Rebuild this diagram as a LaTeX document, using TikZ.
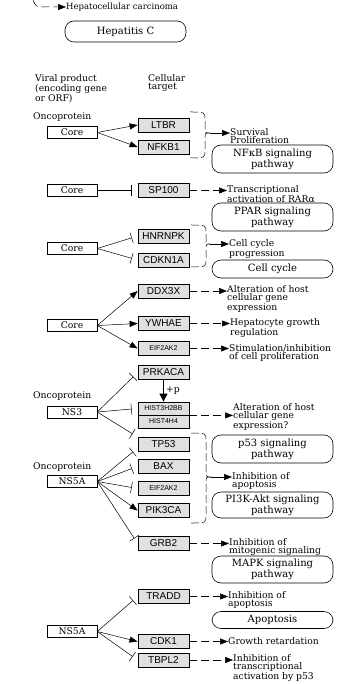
\documentclass[tikz,border=0pt]{standalone}
\usepackage{fontspec}
\setmainfont{DejaVu Serif}
\newfontfamily\genefont{Liberation Sans}
\usetikzlibrary{arrows.meta}
\tikzset{gene/.style={draw,line width=0.8pt,fill=black!12,minimum width=51pt,
   minimum height=14pt,inner sep=0pt,font=\genefont\fontsize{10}{10}\selectfont},
 smallgene/.style={gene,font=\genefont\fontsize{7}{7}\selectfont},
 viral/.style={draw,line width=0.5pt,minimum width=50pt,minimum height=12pt,inner sep=0pt},
 pathway/.style={draw,line width=0.6pt,rounded corners=9pt,minimum width=121pt,
   align=center,inner sep=0pt,font=\fontsize{10}{9}\selectfont},
 txt/.style={align=left,anchor=north west,inner sep=0pt},
 act/.style={-{Triangle[length=8pt,width=6pt]},line width=0.5pt},
 inh/.style={-{Bar[width=11pt]},shorten >=6pt,line width=0.5pt},
 indirect/.style={-{Triangle[length=8pt,width=6pt]},dash pattern=on 8pt off 4pt,line width=0.5pt},
 brace/.style={dash pattern=on 8pt off 3pt,line width=0.5pt},
 }

\begin{document}
\begin{tikzpicture}[x=1pt,y=-1pt,font=\fontsize{9.2}{8.5}\selectfont]
        \useasboundingbox (0,0) rectangle (342,684);

        % header
        \coordinate (frag) at (33,0);
        \node[anchor=west,inner sep=0pt,font=\fontsize{8.5}{8.5}\selectfont] (hcc) at (66,7) {Hepatocellular carcinoma};
        \draw[indirect] (frag) .. controls (36,7) .. (45,7) -- (hcc.west);
        \node[pathway,minimum height=21pt] (hepc) at (125.5,31.5) {Hepatitis C};
        \node[txt] (viralhead) at (35,74) {Viral product\\(encoding gene\\or ORF)};
        \node[txt] (cellhead) at (148,74) {Cellular\\target};

        % viral products
        \node[txt,anchor=west] (onco1) at (33,117) {Oncoprotein};
        \node[viral] (core1) at (72,132.5) {Core};
        \node[viral] (core2) at (72,190.5) {Core};
        \node[viral] (core3) at (72,248.5) {Core};
        \node[viral] (core4) at (72,325.5) {Core};
        \node[txt,anchor=west] (onco2) at (33,396) {Oncoprotein};
        \node[viral] (ns3) at (72,412) {NS3};
        \node[txt,anchor=west] (onco3) at (33,467) {Oncoprotein};
        \node[viral] (ns5a1) at (72,481.5) {NS5A};
        \node[viral] (ns5a2) at (72,631.5) {NS5A};

        % cellular targets
        \node[gene] (ltbr) at (163.5,125) {LTBR};
        \node[gene] (nfkb1) at (163.5,147) {NFKB1};
        \node[gene] (sp100) at (163.5,190.5) {SP100};
        \node[gene] (hnrnpk) at (163.5,236) {HNRNPK};
        \node[gene] (cdkn1a) at (163.5,260) {CDKN1A};
        \node[gene] (ddx3x) at (163.5,291) {DDX3X};
        \node[gene] (ywhae) at (163.5,323.5) {YWHAE};
        \node[smallgene] (eif2ak2a) at (163.5,348.5) {EIF2AK2};
        \node[gene] (prkaca) at (163.5,372.5) {PRKACA};
        \node[smallgene,minimum height=13pt] (hist3) at (163.5,408.5) {HIST3H2BB};
        \node[smallgene,minimum height=13pt] (hist4) at (163.5,421.5) {HIST4H4};
        \node[gene] (tp53) at (163.5,444) {TP53};
        \node[gene] (bax) at (163.5,466.5) {BAX};
        \node[smallgene] (eif2ak2b) at (163.5,488.5) {EIF2AK2};
        \node[gene] (pik3ca) at (163.5,510.5) {PIK3CA};
        \node[gene] (grb2) at (163.5,543.5) {GRB2};
        \node[gene] (tradd) at (163.5,596.5) {TRADD};
        \node[gene] (cdk1) at (163.5,641.5) {CDK1};
        \node[gene] (tbpl2) at (163.5,660) {TBPL2};

        % outcomes
        \node[txt] (t-surv) at (230,128) {Survival\\Proliferation};
        \node[txt] (t-rar) at (227,185) {Transcriptional\\activation of RARα};
        \node[txt] (t-cell) at (229,239) {Cell cycle\\progression};
        \node[txt] (t-alter) at (227,285) {Alteration of host\\cellular gene\\expression};
        \node[txt] (t-hep) at (230,318) {Hepatocyte growth\\regulation};
        \node[txt] (t-stim) at (229,344) {Stimulation/inhibition\\of cell proliferation};
        \node[txt] (t-alter2) at (233,403) {Alteration of host\\cellular gene\\expression?};
        \node[txt] (t-apop) at (232,472) {Inhibition of\\apoptosis};
        \node[txt] (t-mito) at (229,538) {Inhibition of\\mitogenic signaling};
        \node[txt] (t-apop2) at (228,591) {Inhibition of\\apoptosis};
        \node[txt,anchor=west] (t-growth) at (228,641.5) {Growth retardation};
        \node[txt] (t-p53) at (233,654) {Inhibition of\\transcriptional\\activation by p53};

        % pathway maps
        \node[pathway,minimum height=28pt] (nfkb) at (272.5,159) {NFκB signaling\\pathway};
        \node[pathway,minimum height=28pt] (ppar) at (272.5,217) {PPAR signaling\\pathway};
        \node[pathway,minimum height=18pt] (cellcyc) at (272.5,269) {Cell cycle};
        \node[pathway,minimum height=28pt] (p53) at (272.5,449) {p53 signaling\\pathway};
        \node[pathway,minimum height=26pt] (pi3k) at (272.5,505) {PI3K-Akt signaling\\pathway};
        \node[pathway,minimum height=27pt] (mapk) at (272.5,569.5) {MAPK signaling\\pathway};
        \node[pathway,minimum height=17pt] (apop) at (272.5,620) {Apoptosis};

        % viral product -> target
        \draw[act] (core1.east) -- (ltbr.west);
        \draw[act] (core1.east) -- (nfkb1.west);
        \draw[inh] (core2.east) -- (sp100.west);
        \draw[inh] (core3.east) -- (hnrnpk.west);
        \draw[inh] (core3.east) -- (cdkn1a.west);
        \draw[act] (core4.east) -- (ddx3x.west);
        \draw[act] (core4.east) -- (ywhae.west);
        \draw[act] (core4.east) -- (eif2ak2a.west);
        \draw[inh] (ns3.east) -- (prkaca.west);
        \draw[inh] (ns3.east) -- (hist3.west);
        \draw[inh] (ns3.east) -- ([yshift=7pt]tp53.west);
        \draw[inh] (ns5a1.east) -- ([yshift=-4pt]tp53.west);
        \draw[inh] (ns5a1.east) -- (bax.west);
        \draw[inh] (ns5a1.east) -- (eif2ak2b.west);
        \draw[act] (ns5a1.east) -- (pik3ca.west);
        \draw[inh] (ns5a1.east) -- (grb2.west);
        \draw[inh] (ns5a2.east) -- (tradd.west);
        \draw[act] (ns5a2.east) -- (cdk1.west);
        \draw[inh] (ns5a2.east) -- (tbpl2.west);
        \draw[-{Triangle[length=8pt,width=8pt]},line width=1.2pt] (prkaca.south) -- (hist3.north)
            node[midway,right=2pt,inner sep=0pt] (phos) {+p};

        % braces
        \coordinate (b1) at (210,133);
        \draw[brace] (190,112) .. controls (205,112) .. (205,120) -- (205,127) .. controls (205,133) .. (b1);
        \draw[brace] (190,158) .. controls (205,158) .. (205,150) -- (205,139) .. controls (205,133) .. (b1);
        \draw[act] (b1) -- (b1 -| t-surv.west);
        \coordinate (b2) at (210,244);
        \draw[brace] (191,225) .. controls (206,225) .. (206,233) -- (206,238) .. controls (206,244) .. (b2);
        \draw[brace] (191,267) .. controls (206,267) .. (206,259) -- (206,250) .. controls (206,244) .. (b2);
        \draw[act] (b2) -- (b2 -| t-cell.west);
        \coordinate (b3) at (211,477);
        \draw[brace] (191,433) .. controls (206,433) .. (206,441) -- (206,471) .. controls (206,477) .. (b3);
        \draw[brace] (191,523) .. controls (206,523) .. (206,515) -- (206,483) .. controls (206,477) .. (b3);
        \draw[act] (b3) -- (b3 -| t-apop.west);

        % target -> outcome
        \draw[indirect] (sp100.east) -- (sp100.east -| t-rar.west);
        \draw[indirect] (ddx3x.east) -- (ddx3x.east -| t-alter.west);
        \draw[indirect] (ywhae.east) -- (ywhae.east -| t-hep.west);
        \draw[indirect] (eif2ak2a.east) -- (eif2ak2a.east -| t-stim.west);
        \draw[indirect] (hist3.south east) -- (hist3.south east -| t-alter2.west);
        \draw[indirect] (grb2.east) -- (grb2.east -| t-mito.west);
        \draw[indirect] (tradd.east) -- (tradd.east -| t-apop2.west);
        \draw[indirect] (cdk1.east) -- (t-growth.west);
        \draw[indirect] (tbpl2.east) -- (tbpl2.east -| t-p53.west);
    \end{tikzpicture}
\end{document}
